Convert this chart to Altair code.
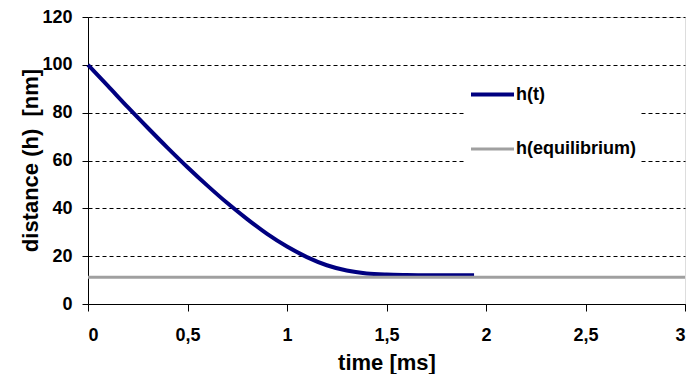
import altair as alt
import pandas as pd

# h(t) curve
t_values = [0.0, 0.1, 0.2, 0.3, 0.4, 0.5, 0.6, 0.7, 0.8, 0.9, 1.0,
            1.1, 1.2, 1.3, 1.4, 1.5, 1.6, 1.7, 1.8, 1.94]
h_values = [100.0, 91.2, 82.3, 73.7, 65.3, 57.2, 49.5, 42.2, 35.5, 29.3, 24.0,
            19.6, 16.2, 14.0, 12.8, 12.3, 12.1, 12.0, 12.0, 12.0]

# equilibrium line
eq_t = [0.0, 3.0]
eq_h = [11.2, 11.2]

series_names = ["h(t)", "h(equilibrium)"]
series_colors = ["#000080", "#a0a0a0"]
series_widths = [4, 3]

x_ticks = [0, 0.5, 1, 1.5, 2, 2.5, 3]
y_ticks = [0, 20, 40, 60, 80, 100, 120]

rows = []
for t, h in zip(t_values, h_values):
    rows.append({"t": t, "h": h, "series": series_names[0]})
for t, h in zip(eq_t, eq_h):
    rows.append({"t": t, "h": h, "series": series_names[1]})
df = pd.DataFrame(rows)

FONT = "Liberation Sans"

legend_opts = dict(title=None, orient="none", legendX=377, legendY=50,
                   symbolType="stroke", symbolSize=1849,
                   labelFontSize=18, labelFont=FONT,
                   labelFontWeight="bold", labelColor="black",
                   labelOffset=0, rowPadding=22, padding=4,
                   fillColor="white", strokeColor="white")

chart = alt.Chart(df).mark_line(interpolate="monotone").encode(
    x=alt.X("t:Q", scale=alt.Scale(domain=[0, 3], nice=False),
            axis=alt.Axis(values=x_ticks, format=".1~f",
                          labelExpr="replace(datum.label, '.', ',')",
                          title="time [ms]", grid=False,
                          tickSize=7, labelPadding=15,
                          labelFontSize=18, labelFont=FONT, labelFontWeight="bold",
                          labelColor="black",
                          titleFontSize=22, titleFont=FONT, titleFontWeight="bold",
                          titleColor="black", titleBaseline="alphabetic", titleY=65,
                          domainColor="black", tickColor="black")),
    y=alt.Y("h:Q", scale=alt.Scale(domain=[0, 120], nice=False),
            axis=alt.Axis(values=y_ticks, title="distance (h)\u00a0 [nm]",
                          grid=True, gridColor="black", gridDash=[4, 3], gridWidth=1,
                          gridOpacity=1,
                          tickSize=6, labelPadding=10,
                          labelFontSize=18, labelFont=FONT, labelFontWeight="bold",
                          labelColor="black",
                          titleFontSize=22, titleFont=FONT, titleFontWeight="bold",
                          titleColor="black", titleX=-58, titleY=143,
                          titleBaseline="middle",
                          domainColor="black", tickColor="black")),
    color=alt.Color("series:N", scale=alt.Scale(domain=series_names, range=series_colors),
                    legend=alt.Legend(**legend_opts)),
    strokeWidth=alt.StrokeWidth("series:N",
                                scale=alt.Scale(domain=series_names, range=series_widths),
                                legend=alt.Legend(**legend_opts)),
    order=alt.Order("t:Q"),
).properties(
    width=597, height=287,
    autosize=alt.AutoSizeParams(type="none"),
    padding={"left": 80, "top": 9, "right": 3, "bottom": 70},
).configure_view(stroke=None).configure(background="white")

chart.save("out.html", embed_options={"renderer": "svg", "actions": False})
